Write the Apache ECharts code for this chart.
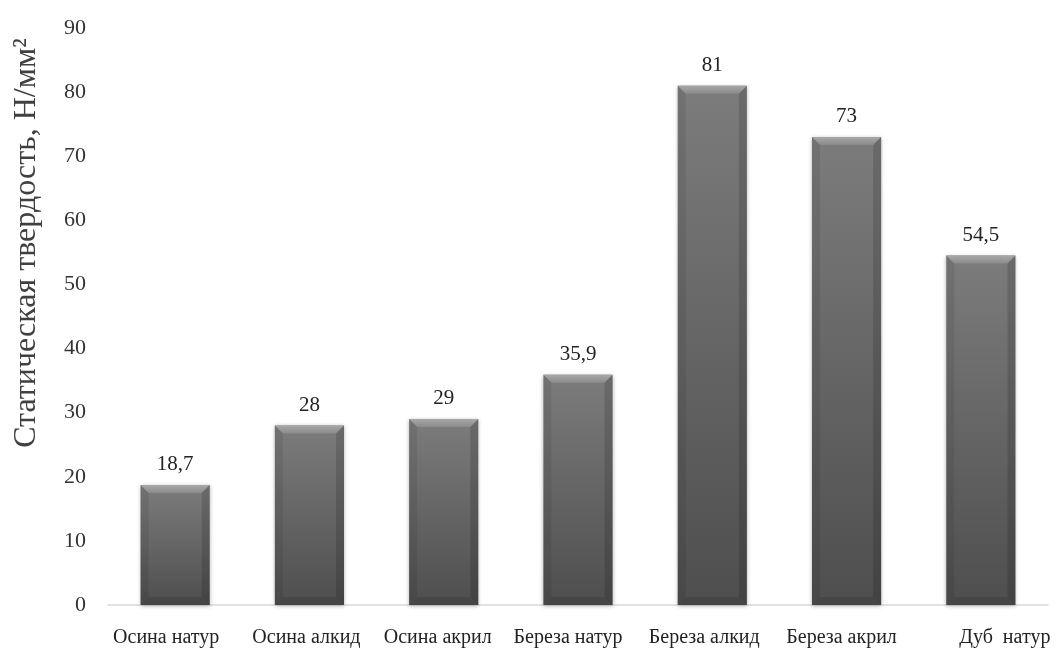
<!DOCTYPE html>
<html>
<head>
<meta charset="utf-8">
<script src="https://cdn.jsdelivr.net/npm/echarts@6/dist/echarts.min.js"></script>
<style>
  html, body { margin: 0; padding: 0; background: #fff; }
  #chart { width: 1060px; height: 648px; }
</style>
</head>
<body>
<div id="chart"></div>
<script>
// Static hardness of wood samples by finish
const categories = ['Осина натур', 'Осина алкид', 'Осина акрил', 'Береза натур', 'Береза алкид', 'Береза акрил', 'Дуб  натур'];
const hardness = [18.7, 28, 29, 35.9, 81, 73, 54.5];
const yTicks = { min: 0, max: 90, interval: 10 };
const yTitle = 'Статическая твердость, Н/мм²';

const FONT = '"Liberation Serif", "DejaVu Serif", serif';

function fmt(v) {
  return String(v).replace('.', ',');
}

// Horizontal nudges for the category captions (px, applied as padding)
const labelShift = [-9, -3, -6, -10, -8, -5, 24];

// Bevelled bar: shaded body plus four edge facets, with value text above
function renderBevelBar(params, api) {
  const idx = api.value(0);
  const val = api.value(1);
  const top = api.coord([idx, val]);
  const base = api.coord([idx, 0]);
  const band = api.size([1, 0])[0];
  const w = band * 0.515;
  const x0 = top[0] - w / 2, x1 = top[0] + w / 2;
  const y0 = top[1], y1 = base[1];
  const b = Math.min(8, (y1 - y0) / 3);
  return {
    type: 'group',
    children: [
      { type: 'rect', shape: { x: x0, y: y0, width: w, height: y1 - y0 },
        style: {
          fill: { type: 'linear', x: 0, y: 0, x2: 0, y2: 1, colorStops: [{ offset: 0, color: '#7c7c7c' }, { offset: 1, color: '#4e4e4e' }] },
          shadowBlur: 4, shadowColor: 'rgba(0,0,0,0.3)', shadowOffsetX: 0, shadowOffsetY: 1 } },
      { type: 'polygon', shape: { points: [[x0, y0], [x1, y0], [x1 - b, y0 + b], [x0 + b, y0 + b]] },
        style: { fill: { type: 'linear', x: 0, y: 0, x2: 0, y2: 1, colorStops: [{ offset: 0, color: '#a8a8a8' }, { offset: 1, color: '#8a8a8a' }] } } },
      { type: 'polygon', shape: { points: [[x0, y0], [x0 + b, y0 + b], [x0 + b, y1 - b], [x0, y1]] },
        style: { fill: 'rgba(0,0,0,0.08)' } },
      { type: 'polygon', shape: { points: [[x1, y0], [x1, y1], [x1 - b, y1 - b], [x1 - b, y0 + b]] },
        style: { fill: 'rgba(0,0,0,0.14)' } },
      { type: 'polygon', shape: { points: [[x0, y1], [x0 + b, y1 - b], [x1 - b, y1 - b], [x1, y1]] },
        style: { fill: 'rgba(0,0,0,0.1)' } },
      { type: 'text', x: top[0], y: y0 - 10,
        style: { text: fmt(val), font: '21px ' + FONT, fill: '#222', align: 'center', verticalAlign: 'bottom' } }
    ]
  };
}

const categoryData = categories.map((name, i) => {
  const s = labelShift[i];
  return {
    value: name,
    textStyle: { padding: s >= 0 ? [0, 0, 0, 2 * s] : [0, -2 * s, 0, 0] }
  };
});

const chart = echarts.init(document.getElementById('chart'), null, { renderer: 'canvas' });
chart.setOption({
  animation: false,
  backgroundColor: '#ffffff',
  grid: { left: 108, right: 12, top: 28, bottom: 41, containLabel: false },
  xAxis: {
    type: 'category',
    data: categoryData,
    axisLine: { lineStyle: { color: '#d9d9d9', width: 1.5 } },
    axisTick: { show: false },
    axisLabel: { interval: 0, color: '#222', fontFamily: FONT, fontSize: 20, margin: 23 }
  },
  yAxis: {
    type: 'value',
    min: yTicks.min, max: yTicks.max, interval: yTicks.interval,
    axisLine: { show: false },
    axisTick: { show: false },
    splitLine: { show: false },
    axisLabel: { color: '#333', fontFamily: FONT, fontSize: 22, margin: 22 }
  },
  graphic: [{
    type: 'text',
    x: 27, y: 243,
    rotation: Math.PI / 2,
    style: { text: yTitle, font: '32px ' + FONT, fill: '#404040', align: 'center', verticalAlign: 'middle' }
  }],
  series: [{
    type: 'custom',
    renderItem: renderBevelBar,
    encode: { x: 0, y: 1 },
    data: hardness.map((v, i) => [i, v]),
    clip: false
  }]
});
</script>
</body>
</html>
